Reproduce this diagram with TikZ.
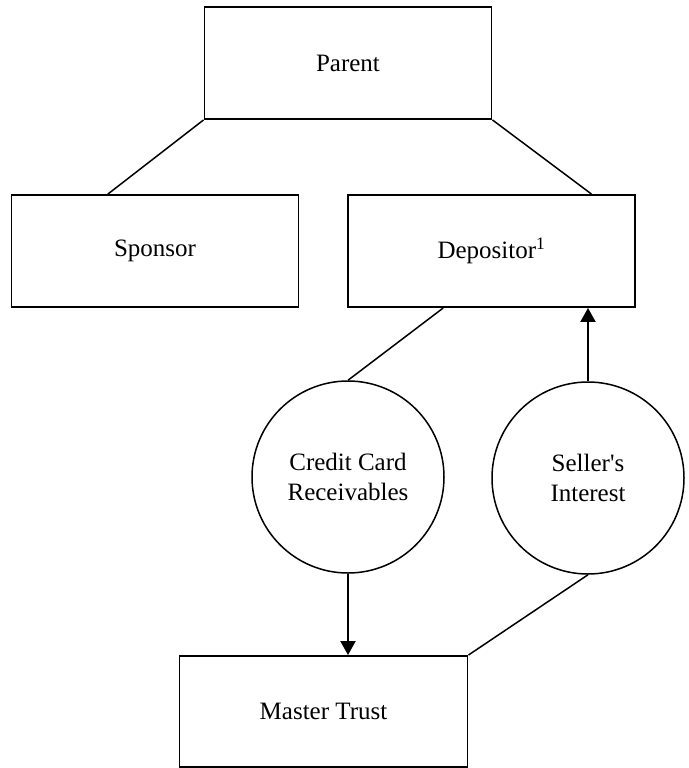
\documentclass[tikz,border=0pt]{standalone}
\usepackage{fontspec}
\setmainfont{Liberation Serif}
\usetikzlibrary{arrows.meta,calc}
\begin{document}
\begin{tikzpicture}[x=1pt,y=-1pt,
  box/.style={draw,line width=1.9pt,rectangle,inner sep=0pt,minimum width=287pt,minimum height=112pt,font=\fontsize{25}{30}\selectfont},
  circ/.style={draw,line width=1.5pt,circle,inner sep=0pt,minimum size=192pt,align=center,font=\fontsize{25}{30}\selectfont},
  link/.style={line width=1.5pt},
  arr/.style={line width=2pt,-{Triangle[length=14pt,width=15pt]}}]
\useasboundingbox (0,0) rectangle (688,768);
\node[box] (parent) at (348,63) {Parent};
\node[box] (sponsor) at (155,251) {Sponsor};
\node[box] (depositor) at (491.5,251) {Depositor\textsuperscript{1}};
\node[circ] (ccr) at (348,477) {Credit Card\\Receivables};
\node[circ] (seller) at (588,478) {Seller\textquotesingle s\\Interest};
\node[box,minimum width=288pt,minimum height=111pt] (trust) at (323.5,711.5) {Master Trust};
\draw[link] (parent.south west) -- ($(sponsor.north west)!0.337!(sponsor.north east)$);
\draw[link] (parent.south east) -- ($(depositor.north west)!0.846!(depositor.north east)$);
\draw[link] ($(depositor.south west)!0.333!(depositor.south east)$) -- (ccr.north);
\draw[arr] (seller.north) -- (seller.north |- depositor.south);
\draw[arr] (ccr.south) -- (ccr.south |- trust.north);
\draw[link] (seller.south) -- (trust.north east);
\end{tikzpicture}
\end{document}
